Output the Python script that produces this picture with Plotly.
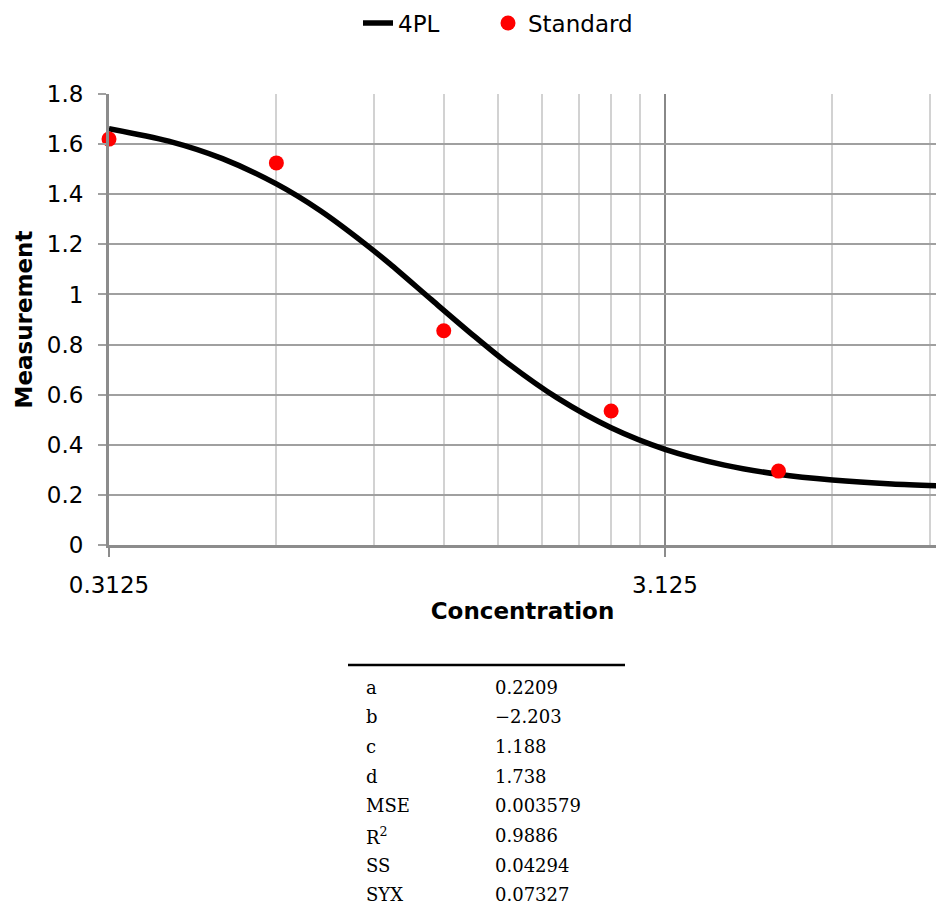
import math
import plotly.graph_objects as go

# ---- data ----
std_conc = [0.3125, 0.625, 1.25, 2.5, 5.0]
std_meas = [1.62, 1.525, 0.855, 0.535, 0.295]

curve_conc = [0.3125, 0.4, 0.5, 0.625, 0.75, 0.9, 1.0, 1.188, 1.4, 1.6, 2.0, 2.5,
              3.125, 4.0, 5.0, 6.25, 8.0, 10.0]
curve_meas = [1.662, 1.612, 1.542, 1.441, 1.334, 1.204, 1.122, 0.979, 0.844, 0.739,
              0.587, 0.468, 0.382, 0.319, 0.282, 0.259, 0.243, 0.235]

x_major_ticks = [0.3125, 3.125]
x_major_labels = ["0.3125", "3.125"]
x_minor_ticks = [0.625, 0.9375, 1.25, 1.5625, 1.875, 2.1875, 2.5, 2.8125, 6.25, 9.375]
y_ticks = [0, 0.2, 0.4, 0.6, 0.8, 1.0, 1.2, 1.4, 1.6, 1.8]
y_labels = ["0", "0.2", "0.4", "0.6", "0.8", "1", "1.2", "1.4", "1.6", "1.8"]

param_names = ["a", "b", "c", "d", "MSE", "R<sup>2</sup>", "SS", "SYX"]
param_values = ["0.2209", "\u22122.203", "1.188", "1.738", "0.003579", "0.9886", "0.04294", "0.07327"]

# ---- layout geometry (pixels) ----
W, H = 936, 913
L, R, T, B = 109, 0, 94, 368
PW, PH = W - L - R, H - T - B


def px_x(x):
    return (x - L) / PW


def px_y(y):
    return (H - B - y) / PH


fig = go.Figure()
fig.add_trace(go.Scatter(
    x=curve_conc, y=curve_meas, mode="lines", name="4PL", legend="legend",
    line=dict(color="black", width=5.5, shape="spline", smoothing=0.8),
))
fig.add_trace(go.Scatter(
    x=std_conc, y=std_meas, mode="markers", name="Standard", legend="legend2",
    marker=dict(color="#ff0000", size=15, line=dict(width=0)),
    cliponaxis=False,
))

xmin = math.log10(0.3125)
xmax = xmin + PW / 556.0

legend_common = dict(orientation="h", yanchor="middle", y=px_y(23), xanchor="left",
                     font=dict(size=23), bgcolor="rgba(0,0,0,0)", borderwidth=0)

fig.update_layout(
    width=W, height=H,
    margin=dict(l=L, r=R, t=T, b=B, pad=0),
    paper_bgcolor="white", plot_bgcolor="white",
    font=dict(family="DejaVu Sans", size=23, color="black"),
    showlegend=True,
    legend=dict(x=px_x(358), **legend_common),
    legend2=dict(x=px_x(488), **legend_common),
    xaxis=dict(
        type="log", range=[xmin, xmax],
        tickmode="array", tickvals=x_major_ticks, ticktext=x_major_labels,
        showgrid=True, gridcolor="#888888", gridwidth=2,
        ticks="outside", ticklen=9, tickwidth=2, tickcolor="#8c8c8c",
        ticklabelstandoff=8,
        minor=dict(tickvals=x_minor_ticks, showgrid=True, gridcolor="#d2d2d2", gridwidth=2, ticks=""),
        showline=True, linecolor="#8c8c8c", linewidth=3,
        zeroline=False,
        title=dict(text="<b>Concentration</b>", standoff=7, font=dict(size=23)),
        automargin=False,
    ),
    yaxis=dict(
        range=[0, 1.8], tickmode="array", tickvals=y_ticks, ticktext=y_labels,
        showgrid=True, gridcolor="#a0a0a0", gridwidth=2,
        ticks="outside", ticklen=8, tickwidth=2, tickcolor="#a0a0a0",
        ticklabelstandoff=10,
        showline=True, linecolor="#8c8c8c", linewidth=3,
        zeroline=False,
        title=dict(text="<b>Measurement</b>", standoff=8, font=dict(size=23)),
        automargin=False,
    ),
)

# table rule
fig.add_shape(type="line", xref="paper", yref="paper",
              x0=px_x(348), x1=px_x(625), y0=px_y(665), y1=px_y(665),
              line=dict(color="black", width=2.5))

for i, (nm, val) in enumerate(zip(param_names, param_values)):
    yc = 687 + 29.7 * i
    fig.add_annotation(xref="paper", yref="paper", x=px_x(364), y=px_y(yc),
                       xanchor="left", yanchor="middle", text=nm, showarrow=False,
                       font=dict(family="DejaVu Serif", size=18, color="black"))
    fig.add_annotation(xref="paper", yref="paper", x=px_x(493), y=px_y(yc),
                       xanchor="left", yanchor="middle", text=val, showarrow=False,
                       font=dict(family="DejaVu Serif", size=18, color="black"))

fig.write_html("out.html")
